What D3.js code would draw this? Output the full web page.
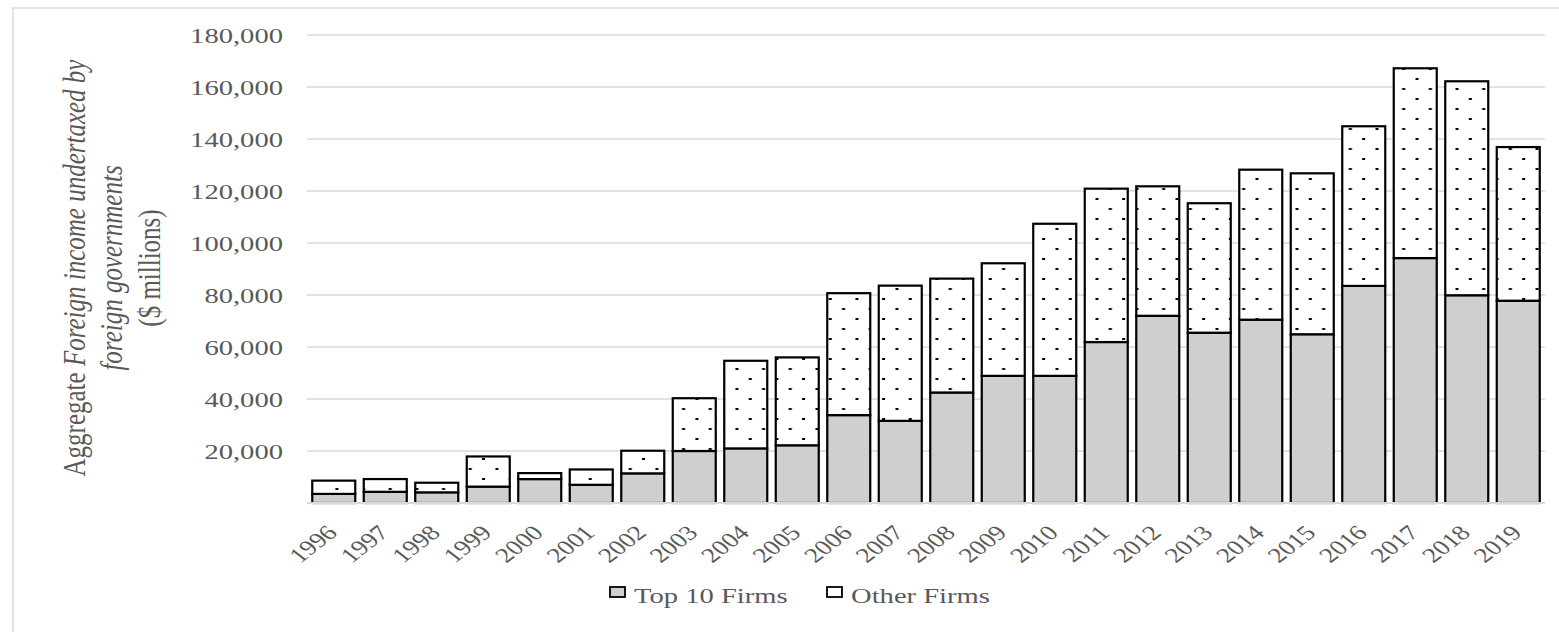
<!DOCTYPE html>
<html>
<head>
<meta charset="utf-8">
<script src="https://cdn.jsdelivr.net/npm/d3@7"></script>
<style>
  html, body { margin: 0; padding: 0; background: #fff; }
  svg { display: block; }
  text { font-family: "Liberation Serif", "Times New Roman", serif; fill: #595959; }
</style>
</head>
<body>
<div id="chart"></div>
<script>
const years = ['1996', '1997', '1998', '1999', '2000', '2001', '2002', '2003', '2004', '2005', '2006', '2007',
               '2008', '2009', '2010', '2011', '2012', '2013', '2014', '2015', '2016', '2017', '2018', '2019'];
const top10Firms = [3500, 4300, 4100, 6300, 9200, 7000, 11400, 20000, 21000, 22200, 33800, 31600,
                    42500, 48900, 48900, 61900, 72000, 65500, 70500, 64900, 83500, 94200, 79900, 77800];
const otherFirms = [5100, 4900, 3700, 11600, 2300, 5900, 8700, 20300, 33700, 33800, 46900, 52000,
                    43800, 43300, 58500, 59000, 49800, 49800, 57700, 61900, 61400, 73000, 82300, 59100];
const yTicks = [20000, 40000, 60000, 80000, 100000, 120000, 140000, 160000, 180000];
const seriesNames = ['Top 10 Firms', 'Other Firms'];

const width = 1559, height = 632;
// the reference was stretched sideways, so every text gets the same squeeze
const stretch = 'scale(1.3,1)';

const svg = d3.select('#chart').append('svg')
  .attr('width', width)
  .attr('height', height);

svg.append('rect').attr('width', width).attr('height', height).attr('fill', '#fff');

// outer chart border (runs off the right and bottom edges)
svg.append('rect')
  .attr('x', 13).attr('y', 8)
  .attr('width', width + 10).attr('height', height + 10)
  .attr('fill', 'none')
  .attr('stroke', '#d9d9d9')
  .attr('stroke-width', 1.5);

// dotted fill for "Other Firms"
const defs = svg.append('defs');
const pat = defs.append('pattern')
  .attr('id', 'dots')
  .attr('patternUnits', 'userSpaceOnUse')
  .attr('x', 2).attr('y', -2)
  .attr('width', 26.67).attr('height', 20);
pat.append('rect').attr('width', 26.67).attr('height', 20).attr('fill', '#fff');
pat.append('rect').attr('x', 0).attr('y', 0).attr('width', 3).attr('height', 2).attr('fill', '#000');
pat.append('rect').attr('x', 13.33).attr('y', 10).attr('width', 3).attr('height', 2).attr('fill', '#000');

const x = d3.scaleBand()
  .domain(years)
  .range([308, 1544])
  .paddingInner(0.165)
  .paddingOuter(0.0825);

const y = d3.scaleLinear()
  .domain([0, 180000])
  .range([503, 35]);

// gridlines
svg.append('g')
  .selectAll('line')
  .data(yTicks)
  .join('line')
    .attr('x1', 307).attr('x2', 1545)
    .attr('y1', d => y(d)).attr('y2', d => y(d))
    .attr('stroke', '#d9d9d9')
    .attr('stroke-width', 1.5);

// y tick labels
svg.append('g')
  .selectAll('text')
  .data(yTicks)
  .join('text')
    .attr('transform', d => `translate(283,${y(d)}) ${stretch}`)
    .attr('text-anchor', 'end')
    .attr('dy', '0.35em')
    .style('font-size', '22px')
    .text(d => d3.format(',')(d));

const rows = years.map((yr, i) => ({ year: yr, top: top10Firms[i], other: otherFirms[i] }));

// stacked bars
const bars = svg.append('g');
bars.selectAll('.bar-top')
  .data(rows)
  .join('rect')
    .attr('class', 'bar-top')
    .attr('x', d => x(d.year))
    .attr('width', x.bandwidth())
    .attr('y', d => y(d.top))
    .attr('height', d => y(0) - y(d.top))
    .attr('fill', '#d0cece')
    .attr('stroke', '#000')
    .attr('stroke-width', 2.2);

bars.selectAll('.bar-other')
  .data(rows)
  .join('rect')
    .attr('class', 'bar-other')
    .attr('x', d => x(d.year))
    .attr('width', x.bandwidth())
    .attr('y', d => y(d.top + d.other))
    .attr('height', d => y(d.top) - y(d.top + d.other))
    .attr('fill', 'url(#dots)')
    .attr('stroke', '#000')
    .attr('stroke-width', 2.2);

// category axis line
svg.append('line')
  .attr('x1', 307).attr('x2', 1545)
  .attr('y1', y(0)).attr('y2', y(0))
  .attr('stroke', '#d9d9d9')
  .attr('stroke-width', 2);

// year labels
svg.append('g')
  .selectAll('text')
  .data(years)
  .join('text')
    .attr('transform', d => `translate(${x(d) + x.bandwidth() / 2 + 5},534) ${stretch} rotate(-45)`)
    .attr('text-anchor', 'end')
    .style('font-size', '21px')
    .text(d => d);

// y axis title
const titleY = 268;
const t1 = svg.append('text')
  .attr('transform', `translate(85,${titleY}) ${stretch} rotate(-90)`)
  .attr('text-anchor', 'middle')
  .style('font-size', '25px');
t1.append('tspan').text('Aggregate ');
t1.append('tspan').style('font-style', 'italic').text('Foreign income undertaxed by');

svg.append('text')
  .attr('transform', `translate(122,${titleY}) ${stretch} rotate(-90)`)
  .attr('text-anchor', 'middle')
  .style('font-size', '25px')
  .style('font-style', 'italic')
  .text('foreign governments');

svg.append('text')
  .attr('transform', `translate(160,${titleY}) ${stretch} rotate(-90)`)
  .attr('text-anchor', 'middle')
  .style('font-size', '25px')
  .text('($ millions)');

// legend
const legendItems = [
  { name: seriesNames[0], fill: '#d0cece', x: 610 },
  { name: seriesNames[1], fill: '#fff', x: 827 }
];
const legend = svg.append('g').selectAll('g')
  .data(legendItems)
  .join('g');
legend.append('rect')
  .attr('x', d => d.x).attr('y', 587)
  .attr('width', 15).attr('height', 10)
  .attr('fill', d => d.fill)
  .attr('stroke', '#000')
  .attr('stroke-width', 1.8);
legend.append('text')
  .attr('transform', d => `translate(${d.x + 24},603) ${stretch}`)
  .style('font-size', '22px')
  .text(d => d.name);
</script>
</body>
</html>
